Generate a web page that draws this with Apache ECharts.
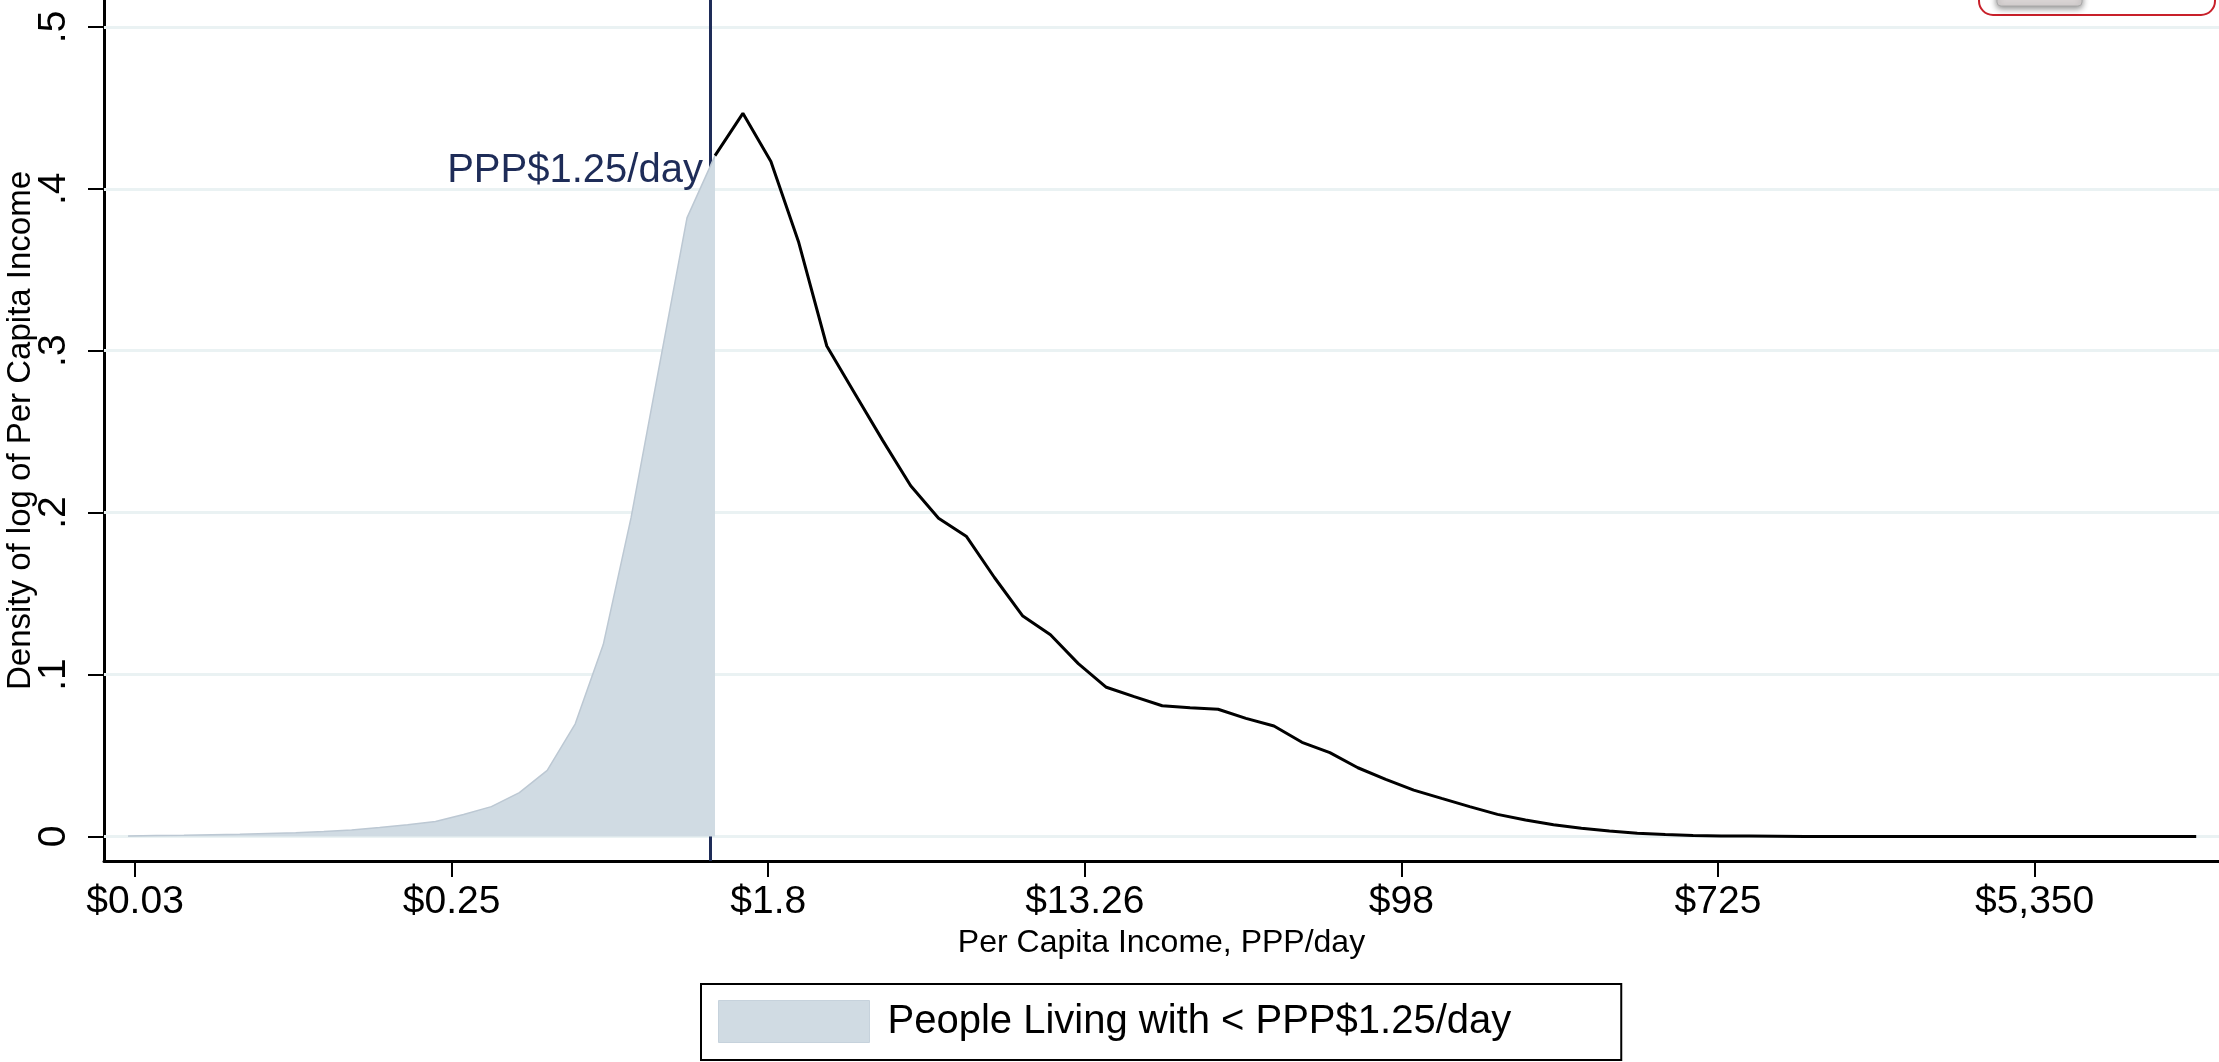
<!DOCTYPE html>
<html>
<head>
<meta charset="utf-8">
<script src="https://cdn.jsdelivr.net/npm/echarts@6/dist/echarts.min.js"></script>
<style>
html,body{margin:0;padding:0;background:#fff;}
#chart{width:2219px;height:1062px;}
</style>
</head>
<body>
<div id="chart"></div>
<script>
// ---- data (x = natural log of per-capita income, PPP$/day; y = density) ----
const logIncome = [
 -3.459,-3.282,-3.106,-2.929,-2.753,-2.576,-2.400,-2.223,-2.047,-1.870,
 -1.693,-1.517,-1.340,-1.164,-0.987,-0.811,-0.634,-0.457,-0.281,-0.104,
  0.072, 0.249, 0.425, 0.602, 0.778, 0.955, 1.132, 1.308, 1.485, 1.661,
  1.838, 2.014, 2.191, 2.368, 2.544, 2.721, 2.897, 3.074, 3.250, 3.427,
  3.603, 3.780, 3.957, 4.133, 4.310, 4.486, 4.663, 4.839, 5.016, 5.192,
  5.369, 5.546, 5.722, 5.899, 6.075, 6.252, 6.428, 6.605, 6.782, 6.958,
  7.135, 7.311, 7.488, 7.664, 7.841, 8.017, 8.194, 8.371, 8.547, 8.724,
  8.900, 9.077, 9.253, 9.430, 9.606
];
const density = [
 0.0003,0.0005,0.0007,0.0010,0.0013,0.0018,0.0023,0.0030,0.0040,0.0055,
 0.0072,0.0092,0.0135,0.0184,0.0270,0.0408,0.0695,0.1185,0.1970,0.2900,
 0.3820,0.4205,0.4466,0.4169,0.3668,0.3029,0.2736,0.2446,0.2166,0.1965,
 0.1852,0.1599,0.1363,0.1245,0.1067,0.0921,0.0863,0.0807,0.0795,0.0785,
 0.0729,0.0682,0.0581,0.0517,0.0424,0.0352,0.0286,0.0235,0.0184,0.0136,
 0.0101,0.0072,0.0050,0.0033,0.0020,0.0012,0.0006,0.0003,0.0002,0.0001,
 0.0000,0.0000,0.0000,0.0000,0.0000,0.0000,0.0000,0.0000,0.0000,0.0000,
 0.0000,0.0000,0.0000,0.0000,0.0000
];
const povertyLine = 1.25;               // PPP$/day
const xTickVals = [-3.415, -1.415, 0.585, 2.585, 4.585, 6.585, 8.585];
const xTickLabels = ['$0.03', '$0.25', '$1.8', '$13.26', '$98', '$725', '$5,350'];
const yTickVals = [0, 0.1, 0.2, 0.3, 0.4, 0.5];
const yTickLabels = ['0', '.1', '.2', '.3', '.4', '.5'];
const legendName = 'People Living with < PPP$1.25/day';
const annotationText = 'PPP$1.25/day';

// ---- build ----
const povLn = Math.log(povertyLine);
const pairs = logIncome.map((x, i) => [x, density[i]]);
let cut = logIncome.findIndex(x => x >= povLn);
const shaded = pairs.slice(0, cut + 1);
const rest = pairs.slice(cut);

const FONT = '"Liberation Sans", Arial, Helvetica, sans-serif';
const NAVY = '#1E2C58';
function nearestLabel(v, vals, labels) {
  let best = 0, bd = Infinity;
  vals.forEach((t, k) => { const d = Math.abs(t - v); if (d < bd) { bd = d; best = k; } });
  return labels[best];
}

const chart = echarts.init(document.getElementById('chart'), null, {renderer: 'canvas'});
const gridLines = yTickVals.map(v => ({
  yAxis: v,
  lineStyle: {color: '#EAF2F3', width: 3, type: 'solid'}
}));
const option = {
  animation: false,
  backgroundColor: '#ffffff',
  textStyle: {fontFamily: FONT},
  grid: {left: 104, right: 0, top: 0, bottom: 201, containLabel: false, outerBoundsMode: 'none'},
  xAxis: {
    type: 'value', min: -3.611, max: 9.75,
    name: 'Per Capita Income, PPP/day', nameLocation: 'middle', nameGap: 66, nameMoveOverlap: false,
    nameTextStyle: {fontSize: 32, color: '#000', fontFamily: FONT},
    axisLine: {show: true, onZero: false, lineStyle: {color: '#000', width: 3}},
    axisTick: {show: true, customValues: xTickVals, length: 16, lineStyle: {color: '#000', width: 2}},
    axisLabel: {customValues: xTickVals, fontSize: 39, color: '#000', margin: 22, fontFamily: FONT,
      formatter: v => nearestLabel(v, xTickVals, xTickLabels)},
    splitLine: {show: false}
  },
  yAxis: {
    type: 'value', min: -0.0152, max: 0.5166,
    name: 'Density of log of Per Capita Income', nameLocation: 'middle', nameGap: 67, nameRotate: 90,
    nameMoveOverlap: false,
    nameTextStyle: {fontSize: 33, color: '#000', fontFamily: FONT},
    axisLine: {show: true, onZero: false, lineStyle: {color: '#000', width: 3}},
    axisTick: {show: true, customValues: yTickVals, length: 16, lineStyle: {color: '#000', width: 2}},
    axisLabel: {customValues: yTickVals, rotate: 90, fontSize: 39, color: '#000', margin: 30, fontFamily: FONT,
      formatter: v => nearestLabel(v, yTickVals, yTickLabels)},
    splitLine: {show: false}
  },
  legend: {
    show: true,
    data: [{name: legendName, icon: 'rect'}],
    left: 701, top: 984,
    orient: 'horizontal',
    borderColor: '#000', borderWidth: 2, borderRadius: 0,
    padding: [16, 110, 17, 17],
    itemWidth: 151, itemHeight: 42,
    itemStyle: {color: '#D0DBE3', borderColor: '#C6D2DC', borderWidth: 1},
    textStyle: {fontSize: 40, color: '#000', fontFamily: FONT, padding: [0, 0, 0, 13]},
    selectedMode: false
  },
  graphic: [
    {type: 'rect', shape: {x: 1979, y: -40, width: 236, height: 55, r: 14},
     style: {fill: 'none', stroke: '#C8202A', lineWidth: 2}, z: 10},
    {type: 'rect', shape: {x: 1997, y: -10, width: 85, height: 16, r: 4},
     style: {fill: '#D9D4D4', stroke: '#AAAAAA', lineWidth: 1, shadowBlur: 6, shadowColor: 'rgba(0,0,0,0.45)', shadowOffsetY: 2}, z: 10}
  ],
  series: [
    {
      name: legendName, type: 'line', data: shaded, z: 3,
      symbol: 'none', smooth: false,
      lineStyle: {color: '#BCC8D3', width: 1.5},
      itemStyle: {color: '#D0DBE3'},
      areaStyle: {color: '#D0DBE3', opacity: 1, origin: 0},
      silent: true
    },
    {
      name: 'density', type: 'line', data: rest, z: 4,
      symbol: 'none', smooth: false,
      lineStyle: {color: '#000', width: 3},
      silent: true,
      markLine: {
        silent: true, symbol: 'none', z: 1, animation: false,
        label: {show: false},
        data: gridLines.concat([{xAxis: povLn, lineStyle: {color: NAVY, width: 3, type: 'solid'}}])
      },
      markPoint: {
        silent: true, symbol: 'circle', symbolSize: 0, z: 6,
        data: [{coord: [povLn, 0.411], value: annotationText}],
        label: {show: true, position: 'left', distance: 8, formatter: annotationText,
          fontSize: 40, color: NAVY, fontFamily: FONT}
      }
    }
  ]
};
chart.setOption(option);
</script>
</body>
</html>
